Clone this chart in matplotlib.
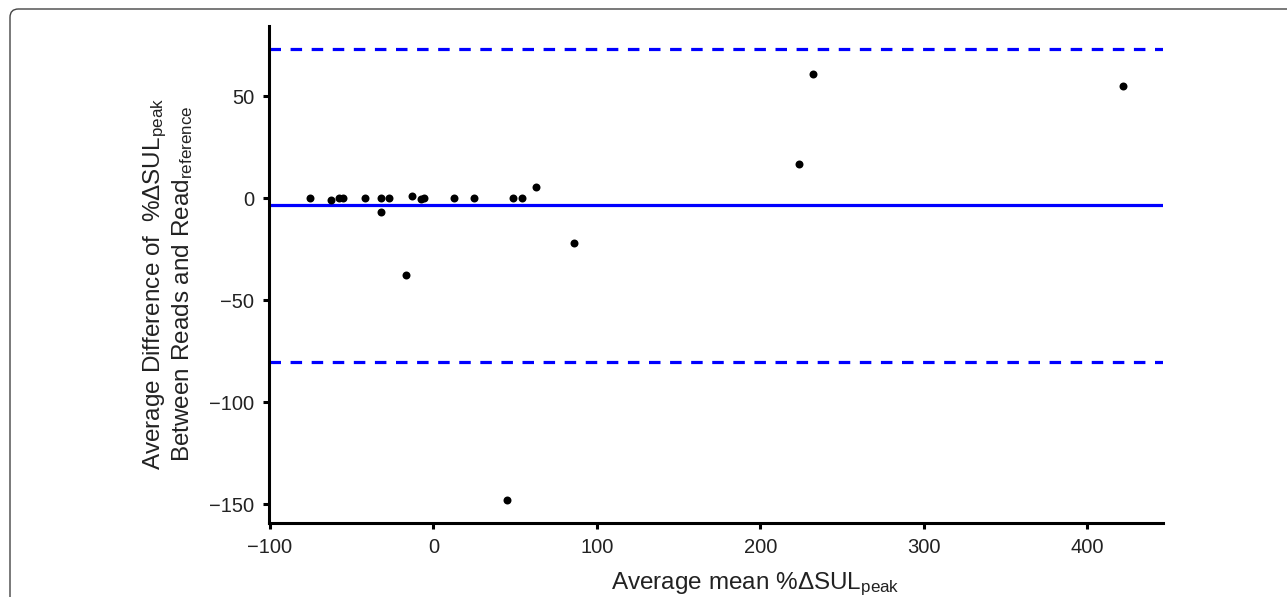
import matplotlib
matplotlib.use("Agg")
import matplotlib.pyplot as plt
from matplotlib.patches import FancyBboxPatch

plt.rcParams['font.family'] = ['Liberation Sans', 'DejaVu Sans']
plt.rcParams['mathtext.fontset'] = 'custom'
plt.rcParams['mathtext.rm'] = 'Liberation Sans'
plt.rcParams['mathtext.it'] = 'Liberation Sans'

# Data
mean_vals = [-75.6, -62.8, -57.9, -55.5, -42.0, -32.3, -32.3, -27.4, -16.7, -12.8,
             -7.3, -5.9, 12.8, 24.8, 48.6, 54.3, 62.6, 86.0, 45.1, 223.6, 232.3, 421.8]
diff_vals = [0.0, -1.0, 0.0, 0.0, 0.0, 0.0, -7.0, 0.0, -37.6, 1.2,
             -0.6, 0.0, 0.0, 0.0, 0.0, 0.0, 5.5, -21.9, -148.0, 16.6, 61.1, 55.2]
bias = -3.4
upper_loa = 73.3
lower_loa = -80.1
x_ticks = [-100, 0, 100, 200, 300, 400]
y_ticks = [-150, -100, -50, 0, 50]

fig = plt.figure(figsize=(12.87, 5.97), dpi=100)

# rounded frame around the figure
frame = FancyBboxPatch((10 / 1287, -0.2), 1.2, 1.2 - 9 / 597,
                       boxstyle="round,pad=0,rounding_size=0.0065",
                       transform=fig.transFigure, facecolor='white',
                       edgecolor='#444444', linewidth=1.0, zorder=-10,
                       mutation_aspect=1287 / 597)
fig.patches.append(frame)

ax = fig.add_axes([269 / 1287, 1 - 523 / 597, (1163 - 269) / 1287, (523 - 26) / 597])
ax.set_facecolor('none')

ax.axhline(bias, color='#0000ff', linewidth=2.3, zorder=2)
ax.axhline(upper_loa, color='#0000ff', linewidth=2.3, dashes=(3.6, 3.0), zorder=2)
ax.axhline(lower_loa, color='#0000ff', linewidth=2.3, dashes=(3.6, 3.0), zorder=2)
ax.scatter(mean_vals, diff_vals, s=33, color='black', zorder=3, linewidths=0)

ax.set_xlim(-100.6, 446.5)
ax.set_ylim(-159.2, 84.4)
ax.set_xticks(x_ticks)
ax.set_yticks(y_ticks)
ax.set_xticklabels([f"\u2212{abs(v)}" if v < 0 else str(v) for v in x_ticks])
ax.set_yticklabels([f"\u2212{abs(v)}" if v < 0 else str(v) for v in y_ticks])

for s in ['top', 'right']:
    ax.spines[s].set_visible(False)
for s in ['left', 'bottom']:
    ax.spines[s].set_linewidth(2.2)
    ax.spines[s].set_color('black')
ax.tick_params(axis='both', length=4, width=2.2, labelsize=14.5, colors='black',
               labelcolor='#222222')
ax.tick_params(axis='x', pad=6.5)
ax.tick_params(axis='y', pad=6.5)

fig.text(755 / 1287, 1 - 584 / 597, r"Average mean %$\Delta$SUL$_{\mathrm{peak}}$",
         ha='center', va='center', fontsize=17.5, color='#222222')
fig.text(155 / 1287, 1 - 284 / 597, r"Average Difference of  %$\Delta$SUL$_{\mathrm{peak}}$",
         ha='center', va='center', rotation=90, fontsize=17.5, color='#222222')
fig.text(183 / 1287, 1 - 284 / 597, r"Between Reads and Read$_{\mathrm{reference}}$",
         ha='center', va='center', rotation=90, fontsize=17.5, color='#222222')

fig.savefig("out.png", dpi=100)
